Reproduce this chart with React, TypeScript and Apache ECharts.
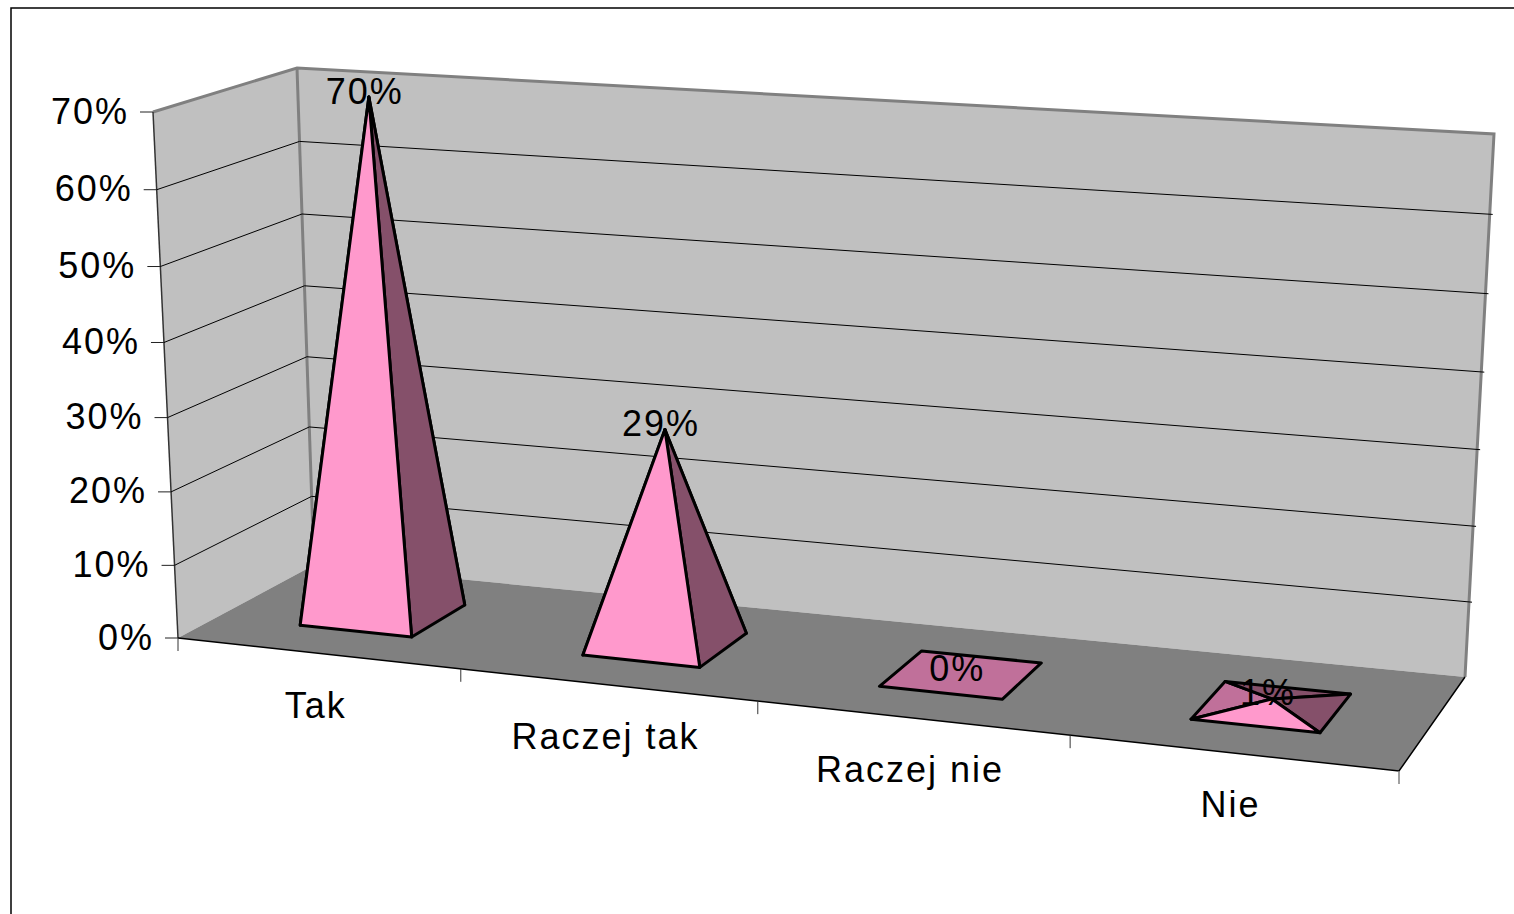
import React, { useEffect, useRef } from "react";
import * as echarts from "echarts";

const categories = ["Tak", "Raczej tak", "Raczej nie", "Nie"];
const seriesValues = [70, 29, 0, 1];
const valueTicks = [0, 10, 20, 30, 40, 50, 60, 70];
const tickLabels = ["0%", "10%", "20%", "30%", "40%", "50%", "60%", "70%"];
const valueLabels = ["70%", "29%", "0%", "1%"];

const WIDTH = 1514;
const HEIGHT = 914;
const Y_MAX = 70;

type P = [number, number];
// corners: front-left, front-right, back-right, back-left
const FLOOR: P[] = [[178, 638], [1399, 771], [1465, 677], [314, 565]];
// full-height vectors of those corners
const RISE: P[] = [[-25, -526], [32, -575], [29, -543], [-17, -497]];

function homography(q: P[]) {
  const [[x0, y0], [x1, y1], [x2, y2], [x3, y3]] = q;
  const dx1 = x1 - x2, dx2 = x3 - x2, sx = x0 - x1 + x2 - x3;
  const dy1 = y1 - y2, dy2 = y3 - y2, sy = y0 - y1 + y2 - y3;
  const den = dx1 * dy2 - dx2 * dy1;
  const g = (sx * dy2 - dx2 * sy) / den;
  const h = (dx1 * sy - sx * dy1) / den;
  const a = x1 - x0 + g * x1, b = x3 - x0 + h * x3, c = x0;
  const d = y1 - y0 + g * y1, e = y3 - y0 + h * y3, f = y0;
  return (s: number, t: number): P => {
    const w = g * s + h * t + 1;
    return [(a * s + b * t + c) / w, (d * s + e * t + f) / w];
  };
}
const floorAt = homography(FLOOR);
const WARP_H = 1.04;
const WARP_S = 0.053;

const riseAt = (s: number, t: number, i: 0 | 1) =>
  (1 - t) * ((1 - s) * RISE[0][i] + s * RISE[1][i]) + t * ((1 - s) * RISE[3][i] + s * RISE[2][i]);

// s: along categories (0..1), t: depth (0..1), h: height (0..1)
function project(s0: number, t: number, h: number): P {
  const s = (s0 * (1 + WARP_S)) / (1 + WARP_S * s0);
  const k = h / (h + (1 - h) * WARP_H);
  const a = floorAt(s, t);
  return [a[0] + riseAt(s, t, 0) * k, a[1] + riseAt(s, t, 1) * k];
}
// read scale positions from the library's axes
const scaleOf = (api: any, cat: number, value: number) => {
  const c = api.coord([cat, value]);
  return { s: c[0] / WIDTH, h: 1 - c[1] / HEIGHT };
};

const FONT = '36px "Liberation Sans", Arial, sans-serif';
const GRAY = "#808080";
const WALL = "#C0C0C0";
const FRONT = "#FF99CC";
const SIDE = "#85506A";
const FLAT = "#C0709A";
const HALF_S = 0.2 / 4;
const T_FRONT = 0.28;
const T_BACK = 0.7;

const poly = (points: P[], fill: string, stroke = "none", lineWidth = 0) => ({
  type: "polygon",
  shape: { points },
  style: { fill, stroke, lineWidth, lineJoin: "round" },
});
const line = (points: P[], stroke: string, lineWidth = 1) => ({
  type: "polyline",
  shape: { points },
  style: { fill: "none", stroke, lineWidth },
});
const text = (t: string, x: number, y: number, align: string) => ({
  type: "text",
  style: { text: t, x, y, font: FONT, fill: "#000", align, verticalAlign: "middle" },
});

const renderWalls = () => {
  const fl = project(0, 0, 0), fr = project(1, 0, 0), br = project(1, 1, 0), bl = project(0, 1, 0);
  const tfl = project(0, 0, 1), tbl = project(0, 1, 1), tbr = project(1, 1, 1);
  return {
    type: "group",
    children: [
      poly([bl, tbl, tbr, br], WALL),
      poly([fl, tfl, tbl, bl], WALL),
      poly([fl, fr, br, bl], GRAY),
      line([tfl, tbl, tbr, br], GRAY, 3),
      line([tbl, bl], GRAY, 3),
      line([tfl, fl], "#333", 1.5),
      line([fl, fr, br], "#000", 1.5),
    ],
  };
};

const renderGrid = (_: any, api: any) => {
  const { h } = scaleOf(api, 0, api.value(1));
  const a = project(0, 0, h), b = project(0, 1, h), c = project(1, 1, h);
  const children: any[] = [line([[a[0] - 13, a[1]], a], "#222", 1)];
  if (api.value(1) > 0 && api.value(1) < Y_MAX) {
    children.push(line([a, b, [c[0] + 3, c[1] + 0.2]], "#000", 1));
  }
  return { type: "group", children };
};

const renderTickLabels = (params: any, api: any) => {
  const { h } = scaleOf(api, 0, api.value(1));
  const a = project(0, 0, h);
  return text(tickLabels[params.dataIndex], a[0] - 24, a[1] - 1, "right");
};

const renderCategoryTicks = (params: any, api: any) => {
  const i = params.dataIndex;
  const children: any[] = [];
  const a = project(i / categories.length, 0, 0);
  children.push(line([a, [a[0], a[1] + 13]], "#333", 1));
  if (i === categories.length - 1) {
    const b = project(1, 0, 0);
    children.push(line([b, [b[0], b[1] + 13]], GRAY, 1.5));
  }
  const { s } = scaleOf(api, i, 0);
  const m = project(s, 0, 0);
  children.push(text(categories[i], m[0] - 2, m[1] + 52, "center"));
  return { type: "group", children };
};

const renderPyramid = (_: any, api: any) => {
  const cat = api.value(0);
  const v = api.value(1);
  const { s, h } = scaleOf(api, cat, v);
  const s0 = s - HALF_S, s1 = s + HALF_S;
  const fl = project(s0, T_FRONT, 0), fr = project(s1, T_FRONT, 0), br = project(s1, T_BACK, 0), bl = project(s0, T_BACK, 0);
  const apex = project(s, (T_FRONT + T_BACK) / 2, h);
  const lw = 3;
  if (v === 0) {
    return { type: "group", children: [poly([fl, fr, br, bl], FLAT, "#000", lw)] };
  }
  return {
    type: "group",
    children: [
      poly([fl, bl, apex], FLAT, "#000", lw),
      poly([bl, br, apex], SIDE, "#000", lw),
      poly([fr, br, apex], SIDE, "#000", lw),
      poly([fl, fr, apex], FRONT, "#000", lw),
    ],
  };
};

const renderValueLabels = (params: any, api: any) => {
  const { s, h } = scaleOf(api, api.value(0), api.value(1));
  const apex = project(s, (T_FRONT + T_BACK) / 2, h);
  return text(valueLabels[params.dataIndex], apex[0] - 4, apex[1] - 6, "center");
};

export default function App() {
  const ref = useRef<HTMLDivElement>(null);
  useEffect(() => {
    const chart = echarts.init(ref.current!, null, { renderer: "svg" });
    const common = { type: "custom", silent: true, clip: false, encode: { x: 0, y: 1 } };
    const catData = categories.map((_, i) => [i, 0]);
    const tickData = valueTicks.map((v) => [0, v]);
    const valData = seriesValues.map((v, i) => [i, v]);
    chart.setOption({
      animation: false,
      backgroundColor: "#fff",
      grid: { left: 0, top: 0, width: WIDTH, height: HEIGHT, containLabel: false },
      xAxis: { type: "category", data: categories, show: false },
      yAxis: { type: "value", min: 0, max: Y_MAX, interval: 10, show: false },
      graphic: [
        { type: "rect", shape: { x: 11, y: 8, width: 1700, height: 1100 }, style: { fill: "none", stroke: "#000", lineWidth: 1.5 }, z: 100 },
      ],
      series: [
        { ...common, name: "walls", data: [[0, 0]], renderItem: renderWalls, z: 1 },
        { ...common, name: "grid", data: tickData, renderItem: renderGrid, z: 2 },
        { ...common, name: "ticks", data: tickData, renderItem: renderTickLabels, z: 3 },
        { ...common, name: "categories", data: catData, renderItem: renderCategoryTicks, z: 3 },
        { ...common, name: "Wartość", data: valData, renderItem: renderPyramid, z: 4 },
        { ...common, name: "labels", data: valData, renderItem: renderValueLabels, z: 5 },
      ],
    });
    return () => chart.dispose();
  }, []);
  return (
    <>
      <style>{`#chart text { letter-spacing: 2px; font-kerning: none; }`}</style>
      <div id="chart" ref={ref} style={{ position: "absolute", left: 0, top: 0, width: WIDTH, height: HEIGHT }} />
    </>
  );
}
